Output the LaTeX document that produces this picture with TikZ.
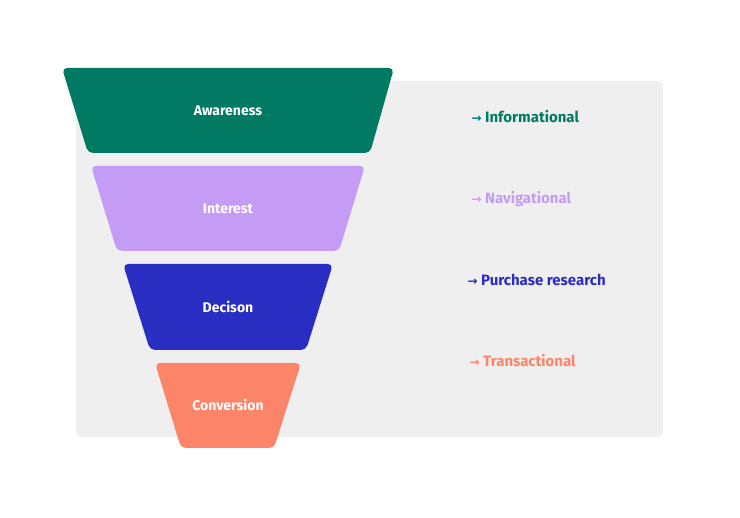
\documentclass[tikz,border=0pt]{standalone}
\usepackage{fontspec}
\setmainfont{Fira Sans}
\newfontfamily\arrowfont{DejaVu Sans}
\begin{document}
\begin{tikzpicture}[x=1pt,y=-1pt,
  seg/.style={rounded corners=5pt},
  stxt/.style={text=white,font=\fontsize{14}{16}\selectfont\bfseries},
  lab/.style={anchor=west,font=\fontsize{15}{17}\selectfont\bfseries}]
\definecolor{cA}{HTML}{007A63}
\definecolor{cI}{HTML}{C59CF5}
\definecolor{cD}{HTML}{2A2DC2}
\definecolor{cC}{HTML}{FC8468}
\definecolor{bg}{HTML}{EFEFEF}
\useasboundingbox (0,0) rectangle (740,518);
\fill[bg,rounded corners=6pt] (76,81) rectangle (663,437);
\fill[cA,seg] (62,68) -- (394,68) -- (370,153) -- (88,153) -- cycle;
\fill[cI,seg] (91,166) -- (365,166) -- (339,251) -- (117,251) -- cycle;
\fill[cD,seg] (123,264) -- (333,264) -- (306,350) -- (150,350) -- cycle;
\fill[cC,seg] (155,363) -- (301,363) -- (274,448) -- (181,448) -- cycle;
\node[stxt] (a) at (228,111) {Awareness};
\node[stxt] (i) at (228,209) {Interest};
\node[stxt] (d) at (228,307) {Decison};
\node[stxt] (c) at (228,405) {Conversion};
\node[lab,text=cA] (la) at (468,117) {{\arrowfont\fontsize{12}{14}\selectfont →} Informational};
\node[lab,text=cI] (li) at (468,199) {{\arrowfont\fontsize{12}{14}\selectfont →} Navigational};
\node[lab,text=cD] (ld) at (464,280) {{\arrowfont\fontsize{12}{14}\selectfont →} Purchase research};
\node[lab,text=cC] (lc) at (466,361) {{\arrowfont\fontsize{12}{14}\selectfont →} Transactional};
\end{tikzpicture}
\end{document}
